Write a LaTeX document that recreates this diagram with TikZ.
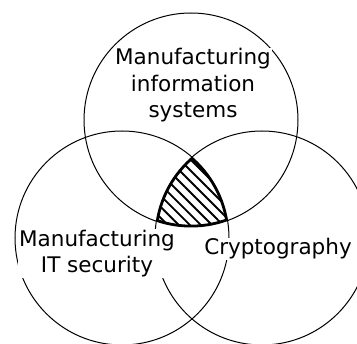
\documentclass[tikz,border=0pt]{standalone}
\usepackage{fontspec}
\setmainfont{DejaVu Sans}
\usetikzlibrary{patterns.meta}

\begin{document}
\begin{tikzpicture}[x=1pt, y=-1pt, font=\fontsize{21.5}{26.5}\selectfont,
  setline/.style={draw, line width=1pt},
  settext/.style={align=center, fill=white, inner sep=1pt}]
  \useasboundingbox (0,0) rectangle (357,344);

  \coordinate (mis) at (191,120);
  \coordinate (its) at (122,238);
  \coordinate (cry) at (262,238);

  % common part of the three sets
  \begin{scope}
    \clip (mis) circle[radius=107];
    \clip (its) circle[radius=107];
    \clip (cry) circle[radius=107];
    \fill[pattern={Lines[angle=-45,distance=7.8pt,line width=1.9pt]}] (100,100) rectangle (300,300);
    \draw[line width=4.6pt] (mis) circle[radius=107] (its) circle[radius=107] (cry) circle[radius=107];
  \end{scope}

  \draw[setline] (mis) circle[radius=107];
  \draw[setline] (its) circle[radius=107];
  \draw[setline] (cry) circle[radius=107];

  \node[settext, anchor=base] (misText) at (193,118) {Manufacturing\\information\\systems};
  \node[settext, anchor=base] (itsText) at (97,273) {Manufacturing\\IT security};
  \node[settext, anchor=base] (cryText) at (278,255) {Cryptography};
\end{tikzpicture}
\end{document}
